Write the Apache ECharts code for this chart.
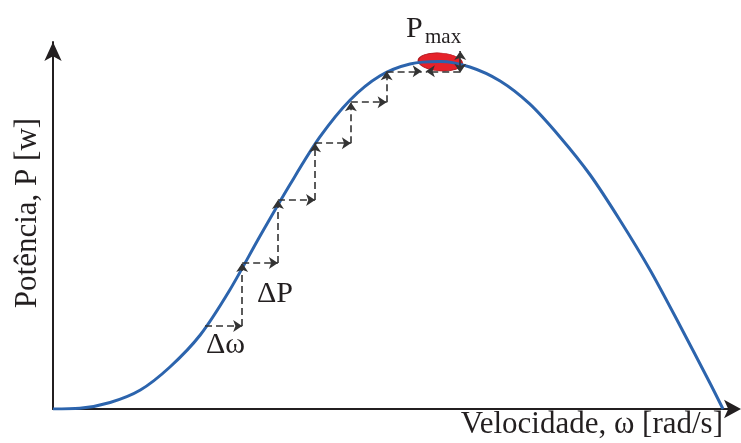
<!doctype html>
<html>
<head>
<meta charset="utf-8">
<title>Potência x Velocidade</title>
<style type="text/css">
html, body { margin:0; padding:0; background:#fff; }
#chart { width:741px; height:443px; }
</style>
<script type="text/javascript" src="https://cdn.jsdelivr.net/npm/echarts@6/dist/echarts.min.js"></script>
</head>
<body>
<div id="chart"></div>
<script type="text/javascript">
// curva de potência (leitura da figura)
var omega = [0, 3.9, 8.3, 12.7, 17.0, 21.4, 25.7, 30.1, 34.5, 38.8, 43.2, 47.5, 51.9, 56.3, 60.6, 65.0, 69.3, 73.7, 78.1, 82.4, 86.8, 91.1, 95.5, 97.4];
var power = [0, 0.19, 1.73, 5.05, 11.17, 19.68, 31.65, 46.0, 59.84, 72.34, 82.18, 88.56, 91.76, 92.42, 90.96, 87.23, 81.12, 72.34, 62.23, 50.27, 36.97, 22.34, 6.91, 0];

// passos do MPPT (escada tracejada)
var stepOmega = [22.1, 27.5, 27.5, 32.7, 32.7, 38.1, 38.1, 43.3, 43.3, 48.5, 48.5, 53.6];
var stepPower = [22.1, 22.1, 38.8, 38.8, 55.6, 55.6, 70.7, 70.7, 81.6, 81.6, 89.8, 89.8];

// oscilação em torno do máximo
var oscFrom = [[59.2, 89.8], [59.2, 92.0], [59.2, 92.0]];
var oscTo = [[54.2, 89.8], [59.2, 95.2], [59.2, 89.4]];

var pMax = [56.3, 92.3];

var myChart = echarts.init(document.getElementById('chart'));

var curve = omega.map(function (w, i) { return [w, power[i]]; });

var steps = [];
for (var i = 0; i < stepOmega.length - 1; i++) {
    steps.push([
        { coord: [stepOmega[i], stepPower[i]] },
        { coord: [stepOmega[i + 1], stepPower[i + 1]] }
    ]);
}
for (var j = 0; j < oscFrom.length; j++) {
    steps.push([{ coord: oscFrom[j] }, { coord: oscTo[j] }]);
}

var serif = 'Liberation Serif';
var ink = '#231f20';

var option = {
    animation: false,
    backgroundColor: '#fff',
    grid: { left: 53, right: 7, top: 42, bottom: 34 },
    xAxis: {
        type: 'value', min: 0, max: 99,
        axisLine: { lineStyle: { color: ink, width: 2 }, symbol: ['none', 'arrow'], symbolSize: [14, 17], symbolOffset: [0, 7] },
        axisTick: { show: false }, axisLabel: { show: false }, splitLine: { show: false }
    },
    yAxis: {
        type: 'value', min: 0, max: 97.6,
        axisLine: { lineStyle: { color: ink, width: 2 }, symbol: ['none', 'arrow'], symbolSize: [13, 19] },
        axisTick: { show: false }, axisLabel: { show: false }, splitLine: { show: false }
    },
    series: [
        {
            type: 'scatter',
            z: 1,
            silent: true,
            symbol: 'circle',
            symbolSize: [44, 18],
            symbolRotate: -4,
            itemStyle: { color: '#e5222a', opacity: 1, borderColor: '#b01c21', borderWidth: 1 },
            data: [pMax]
        },
        {
            type: 'line',
            z: 2,
            smooth: 0.3,
            silent: true,
            showSymbol: false,
            lineStyle: { color: '#2c64ad', width: 3 },
            data: curve
        },
        {
            type: 'line',
            z: 3,
            data: [],
            markLine: {
                silent: true,
                symbol: ['none', 'arrow'],
                symbolSize: 9,
                label: { show: false },
                lineStyle: { color: '#333', width: 1.6, type: [7, 4] },
                data: steps
            }
        }
    ],
    graphic: [
        {
            type: 'text', x: 28, y: 213, rotation: Math.PI / 2,
            style: { text: 'Potência, P [w]', font: '31px "' + serif + '"', fill: ink, textAlign: 'center', textVerticalAlign: 'middle' }
        },
        {
            type: 'text', x: 723, y: 440,
            style: { text: 'Velocidade, ω [rad/s]', font: '31px "' + serif + '"', fill: ink, textAlign: 'right', textVerticalAlign: 'bottom' }
        },
        {
            type: 'text', x: 257, y: 279,
            style: { text: 'ΔP', font: '30px "' + serif + '"', fill: ink }
        },
        {
            type: 'text', x: 206, y: 330,
            style: { text: 'Δω', font: '30px "' + serif + '"', fill: ink }
        },
        {
            type: 'text', x: 406, y: 14,
            style: { text: 'P', font: '30px "' + serif + '"', fill: ink }
        },
        {
            type: 'text', x: 425, y: 27,
            style: { text: 'max', font: '21px "' + serif + '"', fill: ink }
        }
    ]
};
myChart.setOption(option);
</script>
</body>
</html>
